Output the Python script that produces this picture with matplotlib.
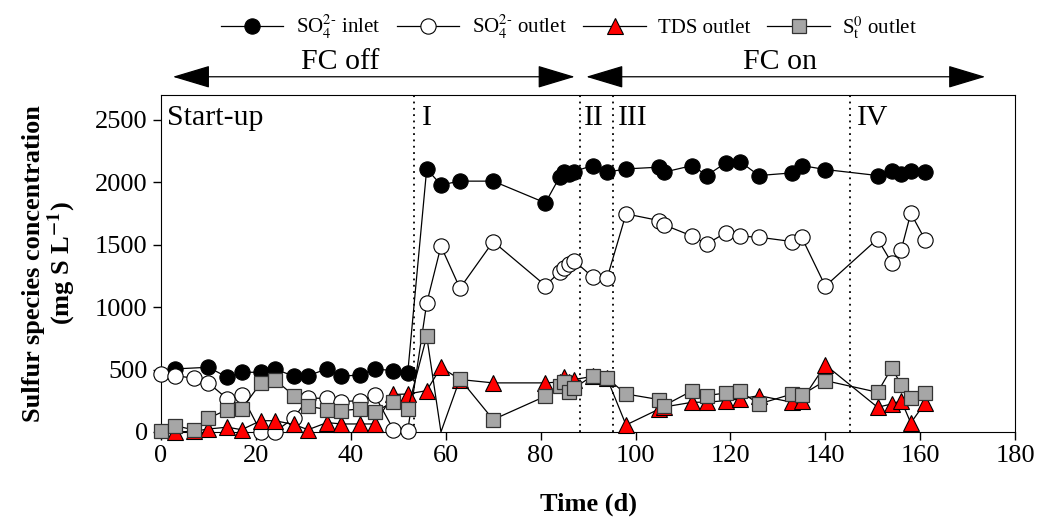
import numpy as np
import matplotlib
matplotlib.use('Agg')
import matplotlib.pyplot as plt

plt.rcParams['font.family'] = ['Liberation Serif', 'DejaVu Serif']
plt.rcParams['mathtext.fontset'] = 'stix'

# data (time in days, concentration in mg S/L)
days_in = [3, 10, 14, 17, 21, 24, 28, 31, 35, 38, 42, 45, 49, 52, 56, 59, 63, 70, 81, 84, 85, 86, 87,
           91, 94, 98, 105, 106, 112, 115, 119, 122, 126, 133, 135, 140, 151, 154, 156, 158, 161]
so4_in = [505, 518, 438, 478, 478, 505, 446, 451, 505, 446, 457, 505, 491, 473, 2107, 1979, 2009, 2009, 1835,
          2041, 2081, 2067, 2086, 2134, 2081, 2107, 2121, 2081, 2134, 2054, 2155, 2166, 2054, 2075, 2134,
          2102, 2054, 2094, 2067, 2094, 2081]

days_out = [0, 3, 7, 10, 14, 17, 21, 24, 28, 31, 35, 38, 42, 45, 49, 52, 56, 59, 63, 70, 81, 84, 85, 86, 87,
            91, 94, 98, 105, 106, 112, 115, 119, 122, 126, 133, 135, 140, 151, 154, 156, 158, 161]
so4_out = [465, 451, 430, 393, 264, 296, 3, 3, 110, 270, 270, 243, 251, 296, 18, 10, 1031, 1488, 1151, 1525,
           1173, 1280, 1312, 1346, 1373, 1240, 1231, 1747, 1693, 1659, 1568, 1506, 1595, 1568, 1560, 1525,
           1560, 1168, 1546, 1354, 1461, 1752, 1541]

days_tds = [3, 7, 10, 14, 17, 21, 24, 28, 31, 35, 38, 42, 45, 49, 52, 56, 59, 63, 70, 81, 84, 85, 86, 87,
            91, 94, 98, 105, 106, 112, 115, 119, 122, 126, 133, 135, 140, 151, 154, 156, 158, 161]
tds_out = [0, 5, 24, 38, 18, 90, 90, 60, 18, 75, 64, 64, 64, 300, 304, 331, 518, 420, 393, 393, 400, 440,
           400, 420, 445, 430, 56, 184, 200, 238, 238, 251, 264, 291, 238, 251, 537, 198, 224, 251, 72, 232]

s0_out = [10, 50, 16, 110, 179, 184, 390, 419, 291, 206, 179, 171, 184, 163, 238, 184, 767, 0, 425, 99,
          286, 366, 398, 323, 350, 451, 430, 304, 259, 211, 331, 291, 312, 326, 224, 304, 296, 411, 318,
          513, 377, 270, 310]

phase_lines = [53.3, 88.3, 95.3, 145.2]
phase_labels = ['Start-up', 'I', 'II', 'III', 'IV']
phase_label_x = [1.2, 54.9, 89.2, 96.3, 146.7]

fig = plt.figure(figsize=(10.52, 5.30), dpi=100)
ax = fig.add_axes([0.153, 0.185, 0.812, 0.636])

ms = 11
ax.plot(days_in, so4_in, '-o', color='black', lw=0.9, ms=ms, mfc='black', mec='black', mew=0.8,
        label=r'SO$_4^{2\text{-}}$ inlet', zorder=3, clip_on=False)
ax.plot(days_out, so4_out, '-o', color='black', lw=0.9, ms=ms, mfc='white', mec='black', mew=0.8,
        label=r'SO$_4^{2\text{-}}$ outlet', zorder=4, clip_on=False)
ax.plot(days_tds, tds_out, '-^', color='black', lw=0.9, ms=ms, mfc='red', mec='black', mew=0.8,
        label='TDS outlet', zorder=5, clip_on=False)
# the point at day 59 has no visible marker in the original
mk = [i for i in range(len(days_out)) if days_out[i] != 59]
ax.plot(days_out, s0_out, '-s', color='black', lw=0.9, ms=10, mfc='#a6a6a6', mec='#333333', mew=0.9,
        markevery=mk, label=r'S$^0_{\mathrm{t}}$ outlet', zorder=6, clip_on=False)

for x in phase_lines:
    ax.axvline(x, color='black', ls=(0, (1, 2.5)), lw=1.3, zorder=1)
for x, t in zip(phase_label_x, phase_labels):
    ax.text(x, 2620, t, fontsize=21.5, va='top', ha='left')

# FC off / FC on arrows above the plot
arrow_y = 2845
arrows = [(2.5, 87.2), (89.6, 173.7)]
fc_text = ['FC off', 'FC on']
fc_x = [37.7, 130.5]
for (x0, x1), t, tx in zip(arrows, fc_text, fc_x):
    ax.annotate('', xy=(x1, arrow_y), xytext=(x0, arrow_y),
                arrowprops=dict(arrowstyle='<|-|>,head_length=2.4,head_width=0.72', mutation_scale=10,
                                color='black', lw=0.9, shrinkA=0, shrinkB=0),
                annotation_clip=False)
    ax.text(tx, arrow_y + 15, t, fontsize=21.5, ha='center', va='bottom', clip_on=False)

ax.set_xlim(0, 180)
ax.set_ylim(0, 2700)
ax.set_xticks(np.arange(0, 181, 20))
ax.set_yticks(np.arange(0, 2501, 500))
ax.tick_params(direction='out', length=6, width=1, labelsize=19)
ax.set_xlabel('Time (d)', fontsize=19, fontweight='bold', labelpad=18)
ax.set_ylabel('Sulfur species concentration\n' + r'(mg S L$^{\mathbf{-1}}$)', fontsize=19, fontweight='bold',
              linespacing=1.05, labelpad=12)

fig.legend(loc='center', bbox_to_anchor=(0.541, 0.949), ncol=4, frameon=False, fontsize=15,
           handlelength=3.0, columnspacing=0.8, handletextpad=0.6)

fig.savefig('out.png', dpi=100)
